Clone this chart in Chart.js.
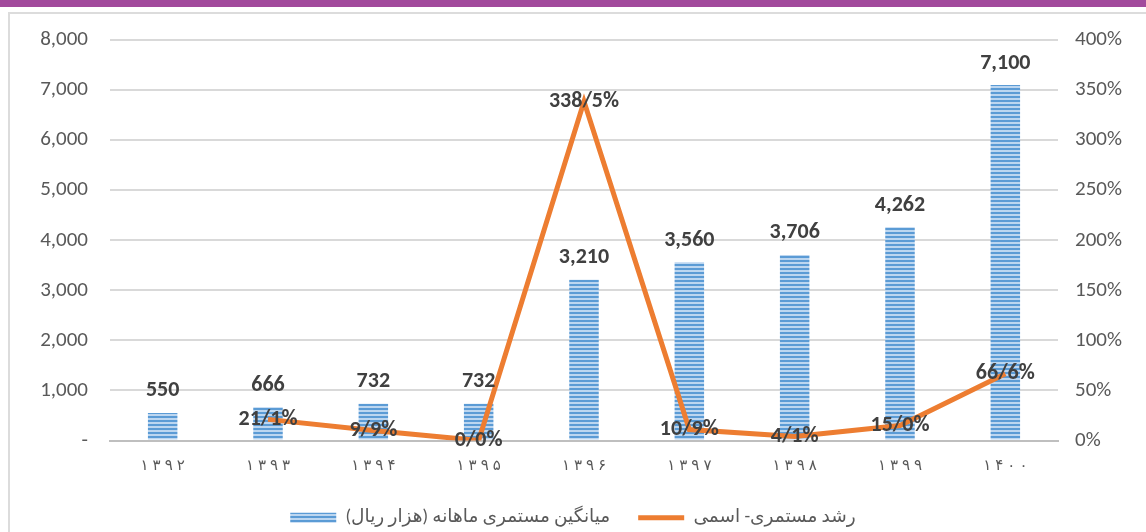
<!DOCTYPE html>
<html>
<head>
<meta charset="utf-8">
<script src="https://cdn.jsdelivr.net/npm/chart.js@4"></script>
<style>
  html, body { margin: 0; padding: 0; background: #ffffff; }
  #strip { position: absolute; left: 0; top: 0; width: 1146px; height: 7px; background: #a24a9c; }
  #card { position: absolute; left: 8px; top: 12px; width: 1146px; height: 540px; border: 2px solid #dcdcdc; box-sizing: border-box; }
  #wrap { position: absolute; left: 0; top: 0; width: 1146px; height: 532px; }
</style>
</head>
<body>
<div id="strip"></div>
<div id="card"></div>
<div id="wrap"><canvas id="chart" width="1146" height="532"></canvas></div>
<script>
const years = ['۱۳۹۲', '۱۳۹۳', '۱۳۹۴', '۱۳۹۵', '۱۳۹۶', '۱۳۹۷', '۱۳۹۸', '۱۳۹۹', '۱۴۰۰'];
const pension = [550, 666, 732, 732, 3210, 3560, 3706, 4262, 7100];
const growth = [null, 21.1, 9.9, 0.0, 338.5, 10.9, 4.1, 15.0, 66.6];
const pensionLabel = 'میانگین مستمری ماهانه (هزار ریال)';
const growthLabel = 'رشد مستمری- اسمی';

const fontFamily = "Calibri, Carlito, 'Open Sans', 'DejaVu Sans', sans-serif";

// striped fill for the bars
function makeStripes() {
    const c = document.createElement('canvas');
    c.width = 4;
    c.height = 4;
    const g = c.getContext('2d');
    g.fillStyle = '#5b9bd5';
    g.fillRect(0, 0, 4, 2);
    g.fillStyle = '#bcd6f0';
    g.fillRect(0, 2, 4, 2);
    return g.createPattern(c, 'repeat');
}

const fmtNum = v => v.toLocaleString('en-US');
const fmtPct = v => v.toFixed(1).replace('.', '/') + '%';

const valueLabels = {
    id: 'valueLabels',
    afterDatasetsDraw(chart) {
        const ctx = chart.ctx;
        ctx.save();
        ctx.font = "bold 22px " + fontFamily;
        ctx.fillStyle = '#404040';
        ctx.textAlign = 'center';
        ctx.textBaseline = 'middle';
        chart.getDatasetMeta(0).data.forEach((bar, i) => {
            ctx.fillText(fmtNum(pension[i]), bar.x, bar.y - 22);
        });
        chart.getDatasetMeta(1).data.forEach((pt, i) => {
            if (growth[i] === null) return;
            ctx.fillText(fmtPct(growth[i]), pt.x, pt.y);
        });
        ctx.restore();
    }
};

// year labels are drawn wide-spaced in the original, so place each digit
const spacedYears = {
    id: 'spacedYears',
    afterDraw(chart) {
        const ctx = chart.ctx;
        const x = chart.scales.x;
        const gap = 4;
        ctx.save();
        ctx.font = "15px 'DejaVu Sans', sans-serif";
        ctx.fillStyle = '#595959';
        ctx.textAlign = 'left';
        ctx.textBaseline = 'middle';
        const y = x.top + 26;
        years.forEach((label, i) => {
            const chars = Array.from(label);
            const widths = chars.map(c => ctx.measureText(c).width);
            const total = widths.reduce((a, b) => a + b, 0) + gap * (chars.length - 1);
            let cx = x.getPixelForTick(i) - total / 2;
            chars.forEach((c, k) => {
                ctx.fillText(c, cx, y);
                cx += widths[k] + gap;
            });
        });
        ctx.restore();
    }
};

new Chart(document.getElementById('chart'), {
    data: {
        labels: years,
        datasets: [
            {
                type: 'bar',
                label: pensionLabel,
                data: pension,
                yAxisID: 'y',
                backgroundColor: makeStripes(),
                borderWidth: 0,
                barPercentage: 0.28,
                categoryPercentage: 1,
                pointStyle: 'rect',
                order: 2
            },
            {
                type: 'line',
                label: growthLabel,
                data: growth,
                yAxisID: 'y1',
                borderColor: '#ed7d31',
                backgroundColor: '#ed7d31',
                borderWidth: 5,
                pointRadius: 0,
                pointBorderWidth: 5,
                pointStyle: 'line',
                tension: 0,
                order: 1
            }
        ]
    },
    options: {
        responsive: false,
        animation: false,
        layout: {
            padding: { top: 40, left: 0, right: 0, bottom: -5 }
        },
        plugins: {
            legend: {
                position: 'bottom',
                labels: {
                    usePointStyle: true,
                    pointStyleWidth: 46,
                    boxHeight: 10,
                    padding: 28,
                    color: '#595959',
                    font: { family: fontFamily, size: 18.5 },
                    sort: (a, b) => a.datasetIndex - b.datasetIndex
                }
            },
            tooltip: { enabled: false }
        },
        scales: {
            x: {
                grid: { display: false, drawTicks: false },
                border: { color: '#bfbfbf', width: 2 },
                ticks: { display: false },
                afterFit: s => { s.height = 40; }
            },
            y: {
                position: 'left',
                min: 0,
                max: 8000,
                ticks: {
                    stepSize: 1000,
                    color: '#595959',
                    padding: 22,
                    font: { family: fontFamily, size: 21 },
                    callback: v => v === 0 ? '-' : fmtNum(v)
                },
                grid: { color: '#d9d9d9', lineWidth: 2, drawTicks: false },
                border: { display: false },
                afterFit: s => { s.width = 110; }
            },
            y1: {
                position: 'right',
                min: 0,
                max: 400,
                ticks: {
                    stepSize: 50,
                    color: '#595959',
                    padding: 17,
                    font: { family: fontFamily, size: 21 },
                    callback: v => v + '%'
                },
                grid: { display: false, drawTicks: false },
                border: { display: false },
                afterFit: s => { s.width = 88; }
            }
        }
    },
    plugins: [valueLabels, spacedYears]
});
</script>
</body>
</html>
